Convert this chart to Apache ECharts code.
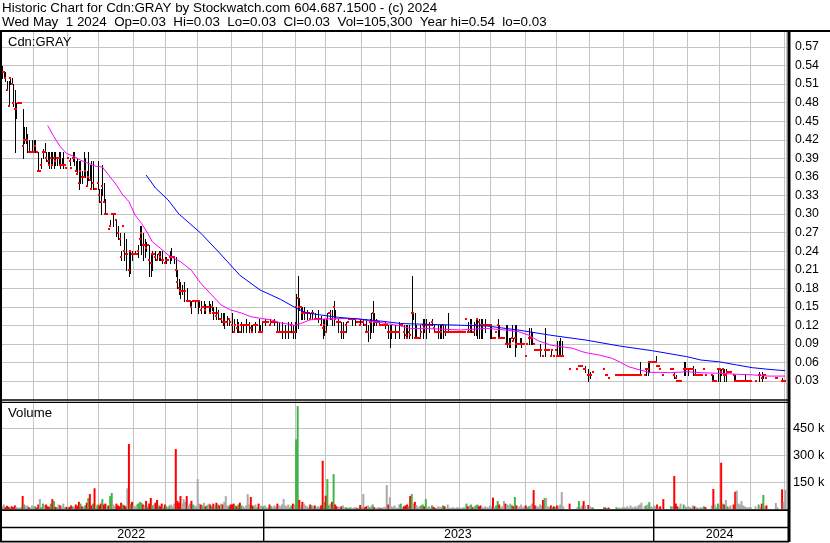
<!DOCTYPE html>
<html><head><meta charset="utf-8">
<script src="https://cdn.jsdelivr.net/npm/echarts@6/dist/echarts.min.js"></script>
<style>html,body{margin:0;padding:0;background:#fff}#c{width:830px;height:543px}</style>
</head><body><div id="c"></div>
<script>
// ---------------- DATA ----------------
const titleLine1 = 'Historic Chart for Cdn:GRAY by Stockwatch.com 604.687.1500 - (c) 2024';
const titleLine2 = 'Wed May  1 2024  Op=0.03  Hi=0.03  Lo=0.03  Cl=0.03  Vol=105,300  Year hi=0.54  lo=0.03';
const symbolLabel = 'Cdn:GRAY';
const volumeLabel = 'Volume';

// trading calendar (TSX/CSE holidays)
const firstDay = '2022-05-02';
const lastDay = '2024-05-01';
const holidays = ['2022-05-23','2022-07-01','2022-08-01','2022-09-05','2022-10-10','2022-12-26','2022-12-27',
  '2023-01-02','2023-02-20','2023-04-07','2023-05-22','2023-07-03','2023-08-07','2023-09-04','2023-10-09','2023-12-25','2023-12-26',
  '2024-01-01','2024-02-19','2024-03-29'];

// prices in cents, one per trading day (null = no trade)
const closeC = [
53,53,53,52,50,47.5,52,51,48,47,47,48,48,48,41,42,42,42,40,40,40,
40,41,40,37,37,38,40,40,39,38.5,38,39,38,39,38.5,39,39,38,38,38,38,37.5,
39,38.5,37.5,39,39,37,36.5,35,37,36,36,37,34.5,36,35.5,34,35,34,34,35,
33,32,34.5,32,30,30,27.5,28,30,30,30,29,27,26,23,28,24,23.5,23.5,21,24,23.5,
23.5,23.5,23.5,24,26,27,25,25,24.5,25,22.5,22,23.5,23.5,23,22.5,23.5,23,22.5,22.5,22,
22.5,22.5,23,23,23,23,21,19,18,17.5,17.5,17.5,17.5,16,16,16,15,16,16,16,
16,16,14.5,15,15,14.5,15,15,14,15,14,14,13.5,14,13,13,12.5,12.5,12.5,12.5,13,12.5,
12,11,12,11.5,12,11,12,12,12,12,12,12,11.5,11,12,12,12,11,11,11,
12.5,12.5,12.5,12.5,12,12.5,12.5,12.5,12.5,11,11,11,11,11,11,11,11,11,12,11,11,
15,16.5,15,15,14,14,14,14,14,13,14,14,13,13,13,13,12,11.5,12,
11,13,14,14,13,15,13,12.5,12.5,12.5,11,11,11,12,12.5,13,13,13,13,13,12.5,12.5,12,
12.5,12.5,12,11,11,12.5,12.5,14,12.5,12.5,12.5,12.5,12,12,12,12,12,11,11,
11,11,11,11,11,11,12,12,11,10.5,10,11,10.5,14,14,10,10,10,10,11,12,11.5,
12,12,12,12,12.5,11.5,11,11,11,11,11,12,11,11,11,11,11,11,11,11,11,11,
11,11,11,11,13,11,11,12,11,11,12,13,12.5,12,12,12,12,12,12,12,
12,10,10,11,12,10,10,10,10,9,9,9,9,10,9.5,10,9,9,9,9,9,9,
7,9,10,10,10,9,8,8,8,8,8,7,8,8,8,8,7,8,7,8,
7,7,7,7,7,null,null,null,5,null,null,null,null,5,5.5,5.5,5.5,5,5,null,4,
4,4,4.5,null,null,null,null,null,null,5,4,4,3.5,null,null,null,null,4,4,4,4,4,
4,4,4,4,4,4,4,4,4,4,4,4,null,4,5,5,6,6,6,
6,6,5.5,5.5,5,null,4,null,null,null,null,5,5,4,3.5,3,3,3,null,5,5,5,
5,5,5,5,4,4,4,4,4,4,5,4,null,null,null,4,3,3,3,5,
5,4.5,5,4,4,4.5,4.5,4.5,null,4,3,3,3,3,3,3,3,3,3,3,
3,null,null,3,null,4,4,3.5,4,4,3.5,null,null,null,null,null,3.5,3.5,null,null,3,3,
3];
const highC = [
54,54,53,53,51.5,51.5,52,52,51,50,48,48,48,48,47,44,44,43,42,40,42,
42,42,40,40,37,39,40.5,41.5,40,40,40,40,40,40,40,39,40,40,39,40,38,37.5,
39,39,37.5,40,40,38.5,39,38.5,38.5,37,40,39,37,40,38,38.5,38.5,34,34,38.5,
34,34,38,35,32.5,30,27.5,29,30,30,30,29,28,27,24,28,27,26,23.5,24,24,24,
23.5,24,23.5,25,28,28,27,26,25.5,25,25,23.5,24,23.5,24,23.5,24,24,24,22.5,23,
23,22.5,24,24.5,23,23,23,21,19.5,19,18.5,19,17.5,18,16,16,16,16,16,16,
16,16,16,15,16,15.5,15,16,15.5,16,15,14,15,14.5,13,14,14,14,12.5,13.5,13,12.5,
14,13,12,13,12.5,11,12.5,12,12,13,12,12.5,12,12,12,12.5,12,13,12,12.5,
12.5,13,12.5,12.5,13,12.5,12.5,13,12.5,12.5,12.5,11,12.5,11,12,11,12.5,11,12.5,12,12.5,
17,20,16.5,15,15,15,14,14.5,14,14,14.5,14,14,13,14.5,13,13.5,13,13,
13,14,14,14.5,14.5,16,14.5,12.5,13,12.5,12.5,12.5,11,12.5,12.5,13,13,13,13,13,12.5,12.5,13,
12.5,13,12,13,12,13,14,16,14,13,12.5,12.5,12,12,12,12.5,12,12,12,
12,11,12,11,11,12.5,12,12,12,12,12,12,10.5,20,14,14,12,10,12,11,13,13,
13,12,12.5,12,13,12,11,11,12,12,12,12,12,11,14,11,11,11,11,11,11,11,
11,11,11,11,13,12.5,13,13,11,12.5,13,13,13,13,13,12,13,12,12,12,
12,10,10,11,13,12,10,10,10,12,12,10,10,12,10,12,12,9,10,10,9,9,
7,9,11.5,11.5,11,9,8,8,8,9,8,7,11.5,8,8,8,8,8,7,8,
9.5,9.5,10,9.5,7,null,null,null,5,null,null,null,null,5,5.5,5.5,5.5,5,5.5,null,5,
4.5,4,4.5,null,null,null,null,null,null,5,4,4,3.5,null,null,null,null,4,4,4,4,4,
4,4,4,4,4,4,4,4,4,4,6,4,null,4,5,6,6,6,6,
6,7,5.5,5.5,5,null,4,null,null,null,null,5,5,4.5,4,3,3,3,null,6,6,5,
5,5,5,5.5,5,4,4,4,4,4,5,4,null,null,null,4,4,3,3,5,
5,5,5,5,5,4.5,4.5,4.5,null,4,4,3,3,3,3,3,4,3,3,3,
3,null,null,3,null,4.5,4,4.5,4,4,3.5,null,null,null,null,null,3.5,3.5,null,null,3.5,3,
3];
const lowC = [
52,52,52,51.5,50,47.5,51,51,47.5,40,45.5,48,48,48,39,41.5,41.5,40,40,40,40,
40,40,40,37,37,37.5,39,40,38.5,38,37.5,37.5,38,37.5,38,38,38,37.5,38,37.5,38,37.5,
39,38,37.5,38.5,38,37,36.5,34,35,35,36,36,34.5,35.5,35.5,34,34,34,34,34,
32,30,33,32,30,30,27.5,28,30,28,30,26.5,26,25,22.5,28,22.5,21,23.5,20,20.5,22.5,
23.5,23.5,23.5,23,25,23.5,22.5,23,24,25,20,20,21,23.5,22.5,22.5,22.5,22.5,22,22.5,22,
22,22.5,22,22.5,23,22,20,18,17,16.5,17,16,17.5,16,16,15,14,16,15,16,
14,15,14,15,14,14,15,14,14,14.5,13,14,13,13,13,12.5,12,11.5,12.5,12,12,12.5,
11,11,12,11,11,11,11,11,12,11,12,11,11,11,12,11,12,11,11,11,
12.5,12,12.5,12.5,12,12.5,12.5,12,12.5,11,11,11,10,11,10,11,10,11,11,10,10,
11,11.5,14.5,13,13,13,14,13,14,13,13,14,13,13,12.5,13,12,10,10.5,
11,12,14,13,12,12,13,12.5,11,12.5,10,10,11,11,12.5,13,13,12,13,12,12.5,12.5,12,
12.5,12,12,11,9.5,10,11,11,12,12,12.5,12,12,12,12,11.5,12,10,8.5,
10,11,10,11,11,10,12,12,10,10,10,10,10.5,10,13,10,10,10,10,11,10,11,
10,12,11,12,12,11,11,11,10,10,10,10,10.5,11,11,11,11,11,11,11,11,11,
11,11,11,11,13,11,11,11,11,10.5,10.5,10,10,10,10,12,11,12,12,10,
10,10,10,11,10,10,10,10,10,9,8.5,8.5,8.5,10,9.5,7,8.5,9,9,8.5,9,9,
7,9,9,9,9,9,8,8,8,7,8,7,7,8,8,8,7,8,7,8,
7,7,7,7,7,null,null,null,5,null,null,null,null,5,5.5,5.5,5.5,5,4.5,null,3,
3.5,4,4.5,null,null,null,null,null,null,5,4,4,3.5,null,null,null,null,4,4,4,4,4,
4,4,4,4,4,4,4,4,4,4,4,4,null,4,4,4,4.5,6,6,
6,6,5.5,5.5,5,null,4,null,null,null,null,5,5,3.5,3.5,3,3,3,null,4,4,5,
4,5,5,4,4,4,4,4,4,4,5,4,null,null,null,3,3,3,3,3,
3,4,4,3,3,4.5,4.5,4.5,null,3,3,3,3,3,3,3,3,3,3,3,
3,null,null,3,null,3,4,3,3.5,4,3.5,null,null,null,null,null,3.5,3.5,null,null,3,3,
3];
// volume in thousands of shares
const volumeK = [
20,15,25,10,18,12,8,15,10,20,12,5,8,10,72,25,15,20,10,8,20,
10,15,8,25,55,10,30,20,25,15,12,30,55,44,12,10,25,20,15,30,10,12,
8,12,20,15,10,25,18,40,30,15,12,20,35,60,83,20,30,115,15,25,
20,30,55,25,30,15,20,72,89,25,15,30,20,15,35,25,20,15,115,361,30,40,
20,15,25,30,40,35,25,20,45,15,30,61,20,25,35,50,20,15,30,10,25,
15,10,20,25,15,30,333,45,35,72,30,55,40,72,20,30,45,25,20,15,
166,30,25,20,35,15,20,30,25,15,30,20,35,25,20,30,25,40,72,20,15,25,
25,30,20,15,25,35,20,15,10,20,83,25,67,20,15,25,10,30,20,15,
15,20,10,8,25,15,10,20,12,30,20,15,25,55,20,15,25,10,20,30,25,
387,572,50,20,40,30,20,15,10,25,20,15,20,10,15,12,20,268,40,
74,166,20,30,40,194,25,15,10,12,15,20,8,10,5,8,10,5,8,10,5,8,22,
8,83,10,15,20,10,15,25,10,5,8,10,5,8,10,12,133,25,65,
15,10,20,8,5,25,30,10,15,20,25,15,72,83,30,40,22,10,15,20,25,15,
55,10,15,8,20,12,5,8,15,10,12,20,15,5,25,8,5,10,8,5,10,8,
8,5,10,8,30,15,20,25,10,15,20,25,15,20,12,8,15,10,8,20,
15,63,10,20,44,25,10,15,44,30,25,20,30,22,15,67,20,10,15,25,10,15,
20,10,15,20,30,105,20,15,10,25,20,50,60,61,15,10,20,10,15,10,
20,15,25,94,15,0,0,0,30,0,0,0,0,10,44,10,20,44,20,0,22,
15,10,8,0,0,0,0,0,0,10,8,5,8,0,0,0,0,10,5,8,5,10,
10,8,15,5,20,10,8,15,10,20,25,35,0,15,20,25,38,15,10,
20,15,25,10,15,0,55,0,0,0,0,15,15,183,30,15,10,30,0,25,15,10,
15,10,8,20,15,10,8,5,10,8,15,10,0,0,0,20,111,25,10,30,
20,257,30,25,50,15,10,20,0,25,96,102,30,25,44,20,15,10,8,10,
10,0,0,15,0,25,10,30,78,15,20,0,0,0,0,0,33,10,0,0,109,40,
105.3];

// moving averages (date, price)
const maFastDates = ['2022-06-14','2022-06-20','2022-06-24','2022-06-30','2022-07-08','2022-07-14','2022-07-20','2022-07-28','2022-08-04','2022-08-10','2022-08-17','2022-08-23','2022-08-29','2022-09-02','2022-09-09','2022-09-15','2022-09-20','2022-09-27','2022-10-04','2022-10-11','2022-10-17','2022-10-26','2022-11-03','2022-11-14','2022-11-22','2022-11-30','2022-12-09','2022-12-19','2022-12-30','2023-01-10','2023-01-18','2023-01-25','2023-01-31','2023-02-06','2023-02-14','2023-02-24','2023-03-13','2023-03-29','2023-04-06','2023-04-17','2023-04-26','2023-05-09','2023-05-17','2023-05-29','2023-06-14','2023-07-04','2023-07-27','2023-08-15','2023-08-25','2023-09-06','2023-09-14','2023-09-26','2023-10-06','2023-10-17','2023-10-25','2023-10-31','2023-11-09','2023-11-21','2023-11-28','2023-12-06','2023-12-15','2023-12-27','2024-01-08','2024-01-16','2024-01-31','2024-02-13','2024-03-01','2024-03-18','2024-04-02','2024-04-16','2024-05-01'];
const maFastValues = [0.443,0.425,0.409,0.398,0.393,0.387,0.383,0.377,0.376,0.363,0.347,0.331,0.32,0.298,0.285,0.269,0.255,0.245,0.234,0.228,0.223,0.209,0.188,0.169,0.153,0.145,0.14,0.134,0.131,0.129,0.124,0.122,0.12,0.123,0.129,0.13,0.131,0.131,0.128,0.126,0.123,0.119,0.115,0.115,0.114,0.1125,0.115,0.1125,0.11,0.104,0.095,0.088,0.085,0.083,0.0775,0.075,0.072,0.0668,0.061,0.053,0.048,0.044,0.044,0.0435,0.045,0.0435,0.0425,0.041,0.04,0.038,0.038];
const maSlowDates = ['2022-09-14','2022-09-22','2022-10-04','2022-10-14','2022-11-03','2022-11-21','2022-12-08','2022-12-29','2023-01-10','2023-01-18','2023-02-01','2023-02-10','2023-02-23','2023-03-13','2023-03-31','2023-04-20','2023-05-09','2023-05-26','2023-06-27','2023-07-27','2023-08-25','2023-09-26','2023-10-30','2023-11-28','2023-12-29','2024-01-31','2024-02-13','2024-03-01','2024-03-18','2024-04-02','2024-04-16','2024-05-01'];
const maSlowValues = [0.363,0.342,0.323,0.30,0.269,0.237,0.201,0.177,0.169,0.162,0.148,0.14,0.137,0.133,0.13,0.127,0.123,0.122,0.1205,0.119,0.1125,0.104,0.096,0.0866,0.079,0.0694,0.064,0.061,0.056,0.0516,0.049,0.0467];

// axis ticks
const priceAxis = {min: 0, max: 0.6, step: 0.03};
const volumeAxis = {min: 0, max: 600000, step: 150000};

// ---------------- BUILD ----------------
function tradingDays() {
  const hol = new Set(holidays), out = [];
  const d = new Date(firstDay + 'T00:00:00Z'), end = new Date(lastDay + 'T00:00:00Z');
  while (d <= end) {
    const wd = d.getUTCDay(), s = d.toISOString().slice(0, 10);
    if (wd !== 0 && wd !== 6 && !hol.has(s)) out.push(s);
    d.setUTCDate(d.getUTCDate() + 1);
  }
  return out;
}
const dates = tradingDays();
const N = dates.length;
if ([closeC, highC, lowC, volumeK].some(a => a.length !== N)) console.error('length mismatch', N, closeC.length, highC.length, lowC.length, volumeK.length);
const dateIndex = {}; dates.forEach((d, i) => dateIndex[d] = i);
const monthStarts = new Set(), yearStarts = [0];
for (let i = 1; i < N; i++) {
  if (dates[i].slice(0, 7) !== dates[i - 1].slice(0, 7)) monthStarts.add(i);
  if (dates[i].slice(0, 4) !== dates[i - 1].slice(0, 4)) yearStarts.push(i);
}

const barData = [];
for (let i = 0; i < N; i++) {
  if (closeC[i] == null) continue;
  barData.push([i, highC[i] / 100, lowC[i] / 100, closeC[i] / 100]);
}
const volData = [];
let prev = null;
for (let i = 0; i < N; i++) {
  const c = closeC[i];
  let col = '#a9a9a9';
  if (c != null && prev != null) col = c > prev ? '#44b444' : (c < prev ? '#ff0000' : '#a9a9a9');
  if (c != null) prev = c;
  volData.push(volumeK[i] ? {value: volumeK[i] * 1000, itemStyle: {color: col}} : null);
}
const maFast = maFastDates.map((d, k) => [dateIndex[d], maFastValues[k]]);
const maSlow = maSlowDates.map((d, k) => [dateIndex[d], maSlowValues[k]]);

const FONT = "'Liberation Sans', Arial, sans-serif";
const GRID = '#c4c4c4';
const xAxisBase = {
  type: 'category', data: dates, boundaryGap: true,
  axisLine: {show: false}, axisTick: {show: false}, axisLabel: {show: false},
  splitLine: {show: true, interval: (idx) => monthStarts.has(idx), lineStyle: {color: GRID, width: 1}}
};

const chart = echarts.init(document.getElementById('c'));
chart.setOption({
  animation: false,
  backgroundColor: '#fff',
  grid: [
    {left: -1, width: 787, top: 28.4, height: 371.2},
    {left: -1, width: 787, top: 401, height: 108}
  ],
  xAxis: [Object.assign({gridIndex: 0}, xAxisBase), Object.assign({gridIndex: 1}, xAxisBase)],
  yAxis: [
    {gridIndex: 0, type: 'value', position: 'right', min: priceAxis.min, max: priceAxis.max, interval: priceAxis.step,
     axisLine: {show: false}, axisTick: {show: false},
     axisLabel: {color: '#000', fontFamily: FONT, fontSize: 12.3, margin: 9, showMinLabel: false, showMaxLabel: false,
       formatter: v => v.toFixed(2)},
     splitLine: {show: true, showMaxLine: false, showMinLine: false, lineStyle: {color: GRID, width: 1}}},
    {gridIndex: 1, type: 'value', position: 'right', min: volumeAxis.min, max: volumeAxis.max, interval: volumeAxis.step,
     axisLine: {show: false}, axisTick: {show: false},
     axisLabel: {color: '#000', fontFamily: FONT, fontSize: 12.8, margin: 7, showMinLabel: false, showMaxLabel: false,
       formatter: v => Math.round(v / 1000) + ' k'},
     splitLine: {show: true, showMaxLine: false, showMinLine: false, lineStyle: {color: GRID, width: 1}}}
  ],
  series: [
    {type: 'custom', xAxisIndex: 0, yAxisIndex: 0, data: barData, encode: {x: 0, y: [1, 2, 3]}, z: 3,
     renderItem: function (params, api) {
       const i = api.value(0);
       const pH = api.coord([i, api.value(1)]), pL = api.coord([i, api.value(2)]), pC = api.coord([i, api.value(3)]);
       const x = Math.round(pH[0]);
       const kids = [];
       const yT = Math.round(pH[1]), yB = Math.round(pL[1]);
       if (yB - yT >= 1) kids.push({type: 'rect', shape: {x: x, y: yT, width: 1, height: yB - yT + 1}, style: {fill: '#000'}});
       kids.push({type: 'rect', shape: {x: x - 1, y: Math.round(pC[1]) - 1, width: 2, height: 2}, style: {fill: '#ff0000'}});
       return {type: 'group', children: kids};
     }},
    {type: 'line', xAxisIndex: 0, yAxisIndex: 0, data: maFast, showSymbol: false, symbol: 'none', z: 4,
     lineStyle: {color: '#ff00ff', width: 1}},
    {type: 'line', xAxisIndex: 0, yAxisIndex: 0, data: maSlow, showSymbol: false, symbol: 'none', z: 4,
     lineStyle: {color: '#0000ff', width: 1}},
    {type: 'bar', xAxisIndex: 1, yAxisIndex: 1, data: volData, barWidth: 2, z: 3}
  ]
});

// frame, titles and year strip (positions derived from the x axis)
const px = i => chart.convertToPixel({xAxisIndex: 0}, i);
const band = px(1) - px(0);
const edge = i => px(i) - band / 2;
const rightEnd = edge(N);
const years = yearStarts.map(s => dates[s].slice(0, 4));
const g = [];
g.push({type: 'rect', shape: {x: 0, y: 0, width: 830, height: 30}, style: {fill: '#fff'}, z: 90});
const black = (x, y, w, h) => g.push({type: 'rect', shape: {x, y, width: w, height: h}, style: {fill: '#000'}, z: 100});
black(0, 30, 830, 2);          // top rule
black(0, 30, 2, 512);          // left border
black(787.5, 30, 3, 512);      // right border
black(0, 399.3, 789, 1.4);     // price panel bottom
black(0, 401.7, 789, 1.3);     // volume panel top
black(0, 509.3, 789, 1.8);     // volume panel bottom
black(0, 526.7, 789, 1.6);     // strip middle
black(0, 540.7, 789, 1.8);     // bottom
yearStarts.forEach((s, k) => {
  if (k > 0) black(Math.round(edge(s)), 510, 1.4, 31);
  const a = Math.max(edge(s), -1), b = k + 1 < yearStarts.length ? edge(yearStarts[k + 1]) : rightEnd;
  g.push({type: 'text', x: (a + b) / 2, y: 535, z: 110,
    style: {text: years[k], fill: '#000', font: '12.5px ' + FONT, textAlign: 'center', textVerticalAlign: 'middle'}});
});
const txt = (s, x, y, size) => g.push({type: 'text', x, y, z: 110,
  style: {text: s, fill: '#000', font: size + 'px ' + FONT, textAlign: 'left', textVerticalAlign: 'middle'}});
txt(titleLine1, 2, 8.6, 13.4);
txt(titleLine2, 2, 22.8, 13.4);
txt(symbolLabel, 8, 42, 13);
txt(volumeLabel, 8, 413, 13.2);
chart.setOption({graphic: {elements: g}});
</script>
</body></html>
